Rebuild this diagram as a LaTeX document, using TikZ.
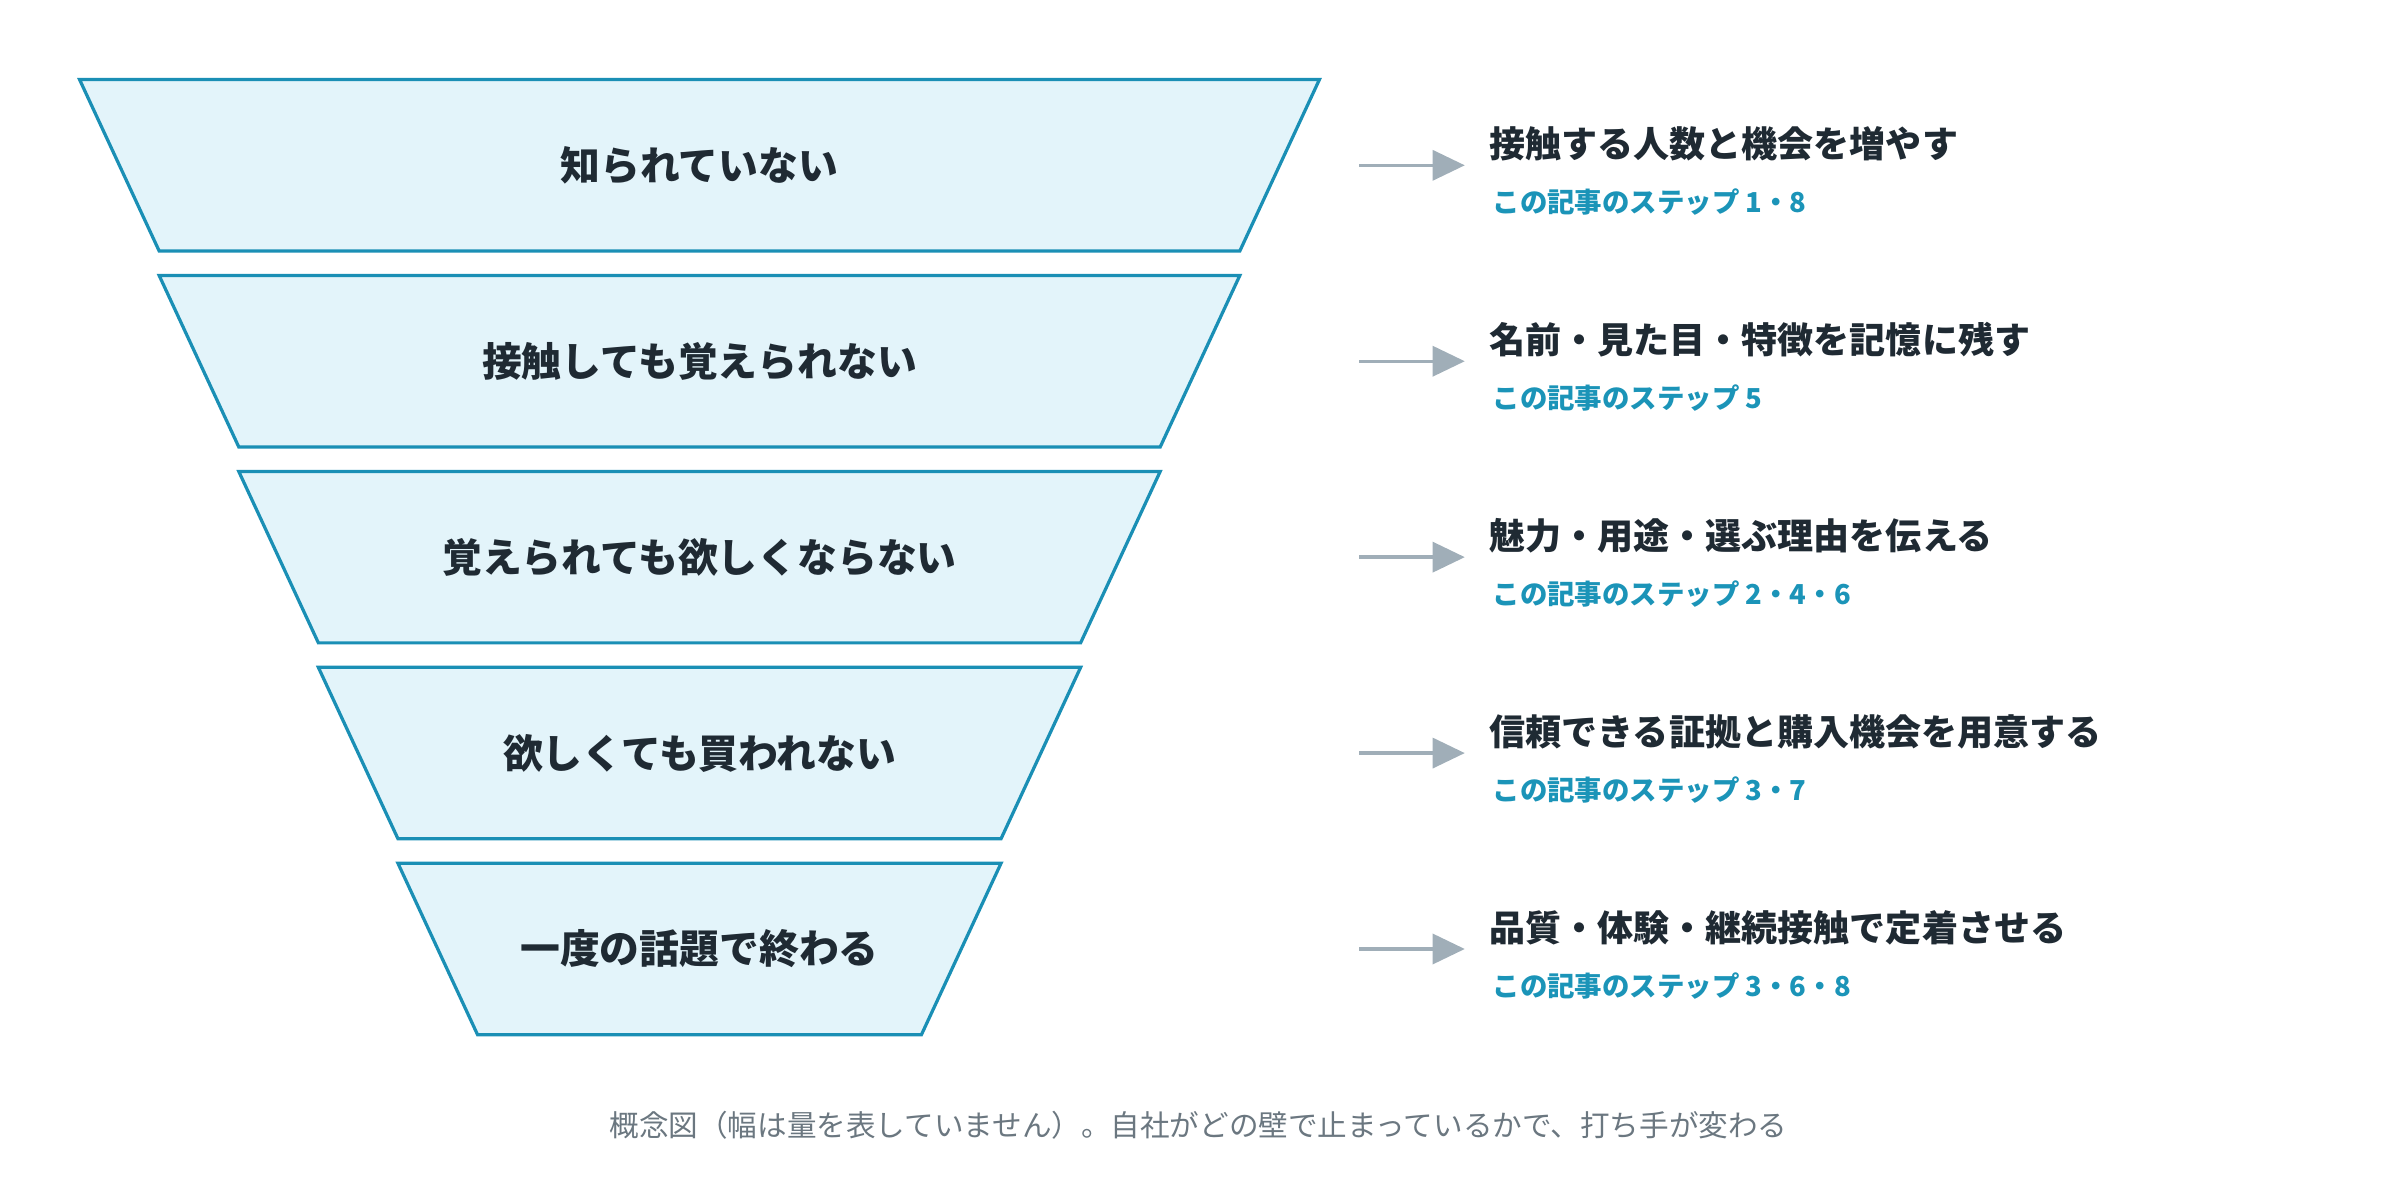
\documentclass[tikz,border=0pt]{standalone}
\usepackage{fontspec}
\setmainfont{Noto Sans CJK JP}
\usetikzlibrary{arrows.meta,positioning}
\definecolor{funnelfill}{HTML}{E3F4FA}
\definecolor{funnelline}{HTML}{1A8FB5}
\definecolor{steptext}{HTML}{1B94B8}
\definecolor{arrowgray}{HTML}{A0AEB8}
\definecolor{darktext}{HTML}{1F2A33}
\definecolor{captiongray}{HTML}{6B7780}
\tikzset{
    stage/.style={fill=funnelfill,draw=funnelline,line width=3pt,line join=miter},
    stage label/.style={font=\fontsize{37}{43}\selectfont\bfseries,text=darktext},
    action/.style={anchor=west,font=\fontsize{33.5}{39}\selectfont\bfseries,text=darktext,inner sep=0pt},
    step ref/.style={anchor=west,font=\fontsize{25.5}{30}\selectfont\bfseries,text=steptext,inner sep=0pt},
    arr/.style={-{Triangle[length=30pt,width=28pt]},draw=arrowgray,fill=arrowgray,line width=3.2pt},
}
\begin{document}
\begin{tikzpicture}[x=0.05cm,y=-0.05cm]
    \useasboundingbox (0,0) rectangle (1568,770);
    % funnel stages
    \foreach \i/\txt/\act/\stp in {
        0/知られていない/接触する人数と機会を増やす/この記事のステップ 1・8,
        1/接触しても覚えられない/名前・見た目・特徴を記憶に残す/この記事のステップ 5,
        2/覚えられても欲しくならない/魅力・用途・選ぶ理由を伝える/この記事のステップ 2・4・6,
        3/欲しくても買われない/信頼できる証拠と購入機会を用意する/この記事のステップ 3・7,
        4/一度の話題で終わる/品質・体験・継続接触で定着させる/この記事のステップ 3・6・8} {
        \pgfmathsetmacro{\ytop}{52+128*\i}
        \pgfmathsetmacro{\ins}{52*\i}
        \draw[stage] (52+\ins,\ytop) -- (862-\ins,\ytop) -- (810-\ins,\ytop+112) -- (104+\ins,\ytop+112) -- cycle;
        \node[stage label] (stage\i) at (457,\ytop+56) {\txt};
        \coordinate (from\i) at (888,\ytop+56);
        \coordinate (to\i) at (957,\ytop+56);
        \draw[arr] (from\i) -- (to\i);
        \node[action] (act\i) at (973,\ytop+42) {\act};
        \node[step ref] (step\i) at (975,\ytop+80) {\stp};
    }
    \node[font=\fontsize{27.5}{32}\selectfont,text=captiongray] (caption) at (783,735)
        {概念図（幅は量を表していません）。自社がどの壁で止まっているかで、打ち手が変わる};
\end{tikzpicture}
\end{document}
